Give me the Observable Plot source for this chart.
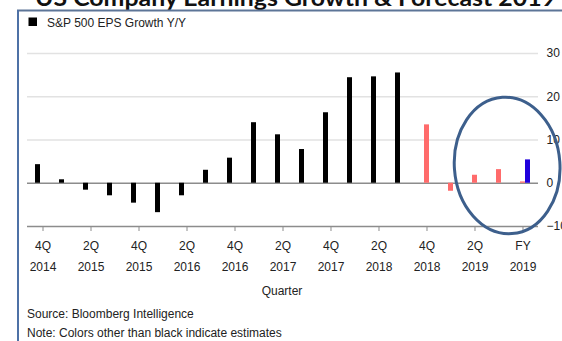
<!DOCTYPE html>
<html><head><meta charset="utf-8">
<script src="https://cdn.jsdelivr.net/npm/d3@7"></script>
<script src="https://cdn.jsdelivr.net/npm/@observablehq/plot@0.6"></script>
<style>
html,body{margin:0;padding:0;background:#fff;}
#wrap{position:relative;width:562px;height:341px;overflow:hidden;font-family:"Liberation Sans",Arial,sans-serif;}
#chart{position:absolute;left:0;top:0;}
#deco{position:absolute;left:0;top:0;pointer-events:none;}
</style></head><body>
<div id="wrap">
  <div id="chart"></div>
  <svg id="deco" width="562" height="341" font-family="Liberation Sans, Arial, sans-serif" fill="#222">
    <text x="35" y="5.5" font-family="Lato, 'Open Sans', sans-serif" font-weight="700" font-size="22" fill="#111" textLength="521" lengthAdjust="spacingAndGlyphs">US Company Earnings Growth &amp; Forecast 2019</text>
    <line x1="17" y1="10.5" x2="562" y2="10.5" stroke="#5d7597" stroke-width="2"/>
    <line x1="18" y1="10" x2="18" y2="341" stroke="#4e71a6" stroke-width="2"/>
    <rect x="28.5" y="17.5" width="8.5" height="8.5" fill="#000"/>
    <text x="47" y="27" font-size="12">S&amp;P 500 EPS Growth Y/Y</text>
    <text x="282" y="295" font-size="12" text-anchor="middle">Quarter</text>
    <text x="27" y="318" font-size="12">Source: Bloomberg Intelligence</text>
    <text x="27" y="337" font-size="12">Note: Colors other than black indicate estimates</text>
  </svg>
</div>
<script>
const quarters = ["4Q14","1Q15","2Q15","3Q15","4Q15","1Q16","2Q16","3Q16","4Q16","1Q17","2Q17","3Q17","4Q17","1Q18","2Q18","3Q18","4Q18","1Q19","2Q19","3Q19","FY19"];
const actual   = [4.3,0.8,-1.6,-2.9,-4.6,-6.8,-2.9,3.0,5.8,14.0,11.2,7.8,16.3,24.4,24.6,25.5,0,0,0,0,0];
const estimate = [null,null,null,null,null,null,null,null,null,null,null,null,null,null,null,null,13.5,-1.85,1.85,3.15,0.3];
const fullYear = [null,null,null,null,null,null,null,null,null,null,null,null,null,null,null,null,null,null,null,null,5.4];
const tickQuarters = ["4Q14","2Q15","4Q15","2Q16","4Q16","2Q17","4Q17","2Q18","4Q18","2Q19","FY19"];
const tickLine1 = ["4Q","2Q","4Q","2Q","4Q","2Q","4Q","2Q","4Q","2Q","FY"];
const tickLine2 = ["2014","2015","2015","2016","2016","2017","2017","2018","2018","2019","2019"];
const yTicks = [-10,0,10,20,30];
const gridTicks = [10,20,30];

const rows = (vals) => quarters.map((q,i) => ({q, v: vals[i]})).filter(d => d.v != null);

const plot = Plot.plot({
  width: 562,
  height: 300,
  marginLeft: 27,
  marginRight: 24,
  marginTop: 53,
  marginBottom: 74,
  style: {fontFamily: "Liberation Sans, Arial, sans-serif", fontSize: "12px", background: "transparent", overflow: "visible"},
  x: {type: "band", domain: quarters, paddingInner: 0.292, paddingOuter: 0.292, align: 0.5, round: false},
  y: {domain: [-10, 30]},
  marks: [
    Plot.gridY(gridTicks, {stroke: "#e2e2e2", strokeOpacity: 1, strokeWidth: 1.6}),
    Plot.ruleY([0], {stroke: "#8c8c8c", strokeWidth: 1.4}),
    Plot.barY(rows(actual), {x: "q", y: "v", fill: "#000", insetLeft: 6, insetRight: 6, dx: -5}),
    Plot.barY(rows(estimate), {x: "q", y: "v", fill: "#ff6b6b", insetLeft: 6, insetRight: 6}),
    Plot.barY(rows(fullYear), {x: "q", y: "v", fill: "#2000dc", insetLeft: 6, insetRight: 6, dx: 5}),
    Plot.ruleY([-10], {stroke: "#8c8c8c", strokeWidth: 1.4}),
    Plot.axisX(tickQuarters, {tickSize: 5, tickPadding: 9.5, stroke: "#8c8c8c", fill: "#222", fontSize: 12, label: null,
      tickFormat: d => tickLine1[tickQuarters.indexOf(d)]}),
    Plot.axisX(tickQuarters, {tickSize: 0, tickPadding: 35.5, fill: "#222", fontSize: 12, label: null,
      tickFormat: d => tickLine2[tickQuarters.indexOf(d)]}),
    Plot.axisY(yTicks, {anchor: "right", tickSize: 0, tickPadding: 8, fill: "#222", fontSize: 12, label: null})
  ]
});
document.getElementById("chart").appendChild(plot);

// annotation ellipse around the estimate quarters, positioned through the plot scales
const xs = plot.scale("x"), ys = plot.scale("y");
const center = q => xs.apply(q) + xs.bandwidth / 2;
const cx = center("3Q19") + 0.36 * xs.step;
const cy = ys.apply(4);
const ry = ys.apply(-11.8) - cy;
const rx = 2.2 * xs.step;
d3.select("#deco").append("ellipse")
  .attr("cx", cx).attr("cy", cy).attr("rx", rx).attr("ry", ry)
  .attr("transform", `rotate(-4 ${cx} ${cy})`)
  .attr("fill", "none").attr("stroke", "#3d5f8c").attr("stroke-width", 3);
</script>
</body></html>
